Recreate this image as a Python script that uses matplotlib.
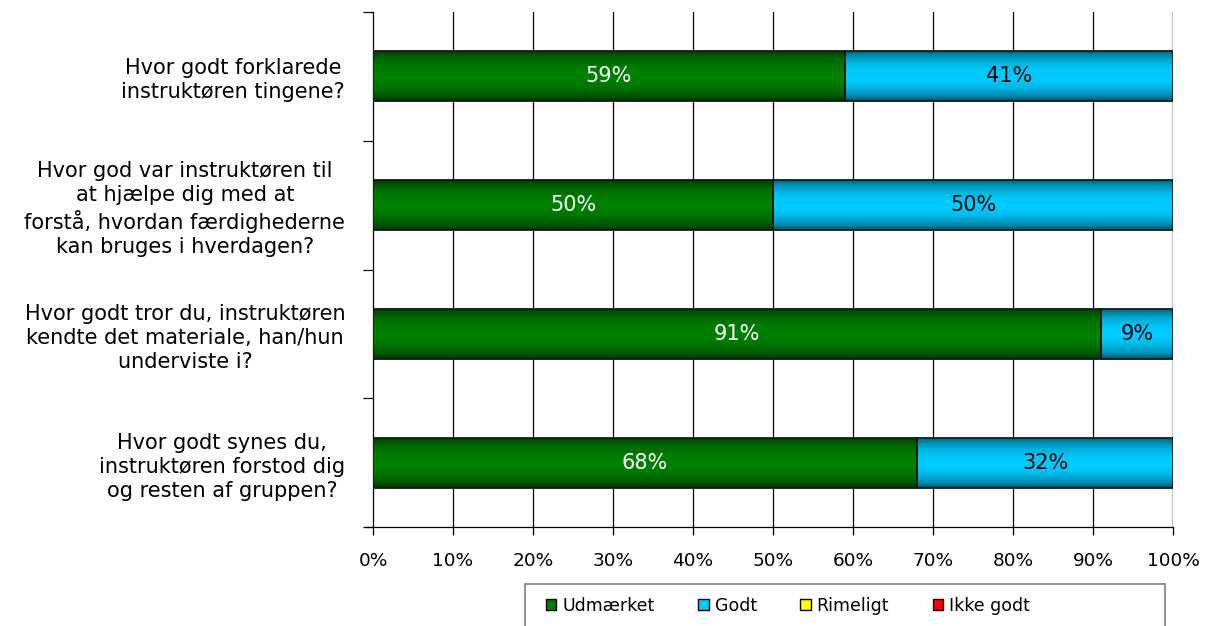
import numpy as np
import matplotlib
matplotlib.use("Agg")
from matplotlib import pyplot as plt
from matplotlib.patches import Patch, Rectangle
from matplotlib.colors import to_rgb

# survey questions and answer shares (percent)
questions = [
    "Hvor godt forklarede\ninstruktøren tingene?",
    "Hvor god var instruktøren til\nat hjælpe dig med at\nforstå, hvordan færdighederne\nkan bruges i hverdagen?",
    "Hvor godt tror du, instruktøren\nkendte det materiale, han/hun\nunderviste i?",
    "Hvor godt synes du,\ninstruktøren forstod dig\nog resten af gruppen?",
]
udmaerket = [59, 50, 91, 68]
godt = [41, 50, 9, 32]
rimeligt = [0, 0, 0, 0]
ikke_godt = [0, 0, 0, 0]

series_names = ["Udmærket", "Godt", "Rimeligt", "Ikke godt"]
series_colors = ["#008000", "#00ccff", "#ffff00", "#ff0000"]
text_colors = ["white", "black", "black", "white"]
series = [udmaerket, godt, rimeligt, ikke_godt]

plt.rcParams['font.family'] = ['DejaVu Sans']

fig = plt.figure(figsize=(12.1, 6.26), dpi=100)
ax = fig.add_axes([373 / 1210, 1 - 527 / 626, 800 / 1210, 515 / 626])

y = np.arange(len(questions))
bar_h = 0.39


def shaded(color, n=64):
    # dark at the top and bottom edge, full colour in the middle
    base = np.array(to_rgb(color))
    t = np.linspace(-1, 1, n)
    k = 0.35 + 0.65 * np.cos(t * np.pi / 2) ** 0.6
    return (base[None, :] * k[:, None])[:, None, :]


left = np.zeros(len(questions))
for vals, col, tcol in zip(series, series_colors, text_colors):
    vals = np.array(vals, dtype=float)
    bars = ax.barh(y, vals, left=left, height=bar_h, color=col,
                   edgecolor="none", zorder=3)
    for b, v, l in zip(bars, vals, left):
        if v <= 0:
            continue
        x0, y0 = b.get_x(), b.get_y()
        im = ax.imshow(shaded(col), extent=[x0, x0 + b.get_width(), y0 + b.get_height(), y0],
                       aspect="auto", zorder=3.5, interpolation="bilinear")
        im.set_clip_path(b)
        # outline on top of the shading
        ax.add_patch(Rectangle((x0, y0), b.get_width(), b.get_height(), fill=False,
                               edgecolor="#0a1a1a", linewidth=1.3, zorder=4))
        ax.text(l + v / 2, b.get_y() + b.get_height() / 2, f"{v:.0f}%",
                ha="center", va="center", color=tcol, fontsize=15, zorder=5)
    left += vals

ax.set_xlim(0, 100)
ax.set_ylim(len(questions) - 0.5, -0.5)

# vertical grid lines
for gx in range(10, 100, 10):
    ax.axvline(gx, color="black", linewidth=0.9, zorder=1)
ax.axvline(100, color="#c0c0c0", linewidth=1.5, zorder=1)

ax.set_xticks(range(0, 101, 10))
ax.set_xticklabels([f"{v}%" for v in range(0, 101, 10)], fontsize=13.3)
ax.tick_params(axis="x", direction="out", length=6, width=0.9, pad=12)

ax.set_yticks(y)
ax.set_yticklabels(questions, fontsize=15)
for lab in ax.get_yticklabels():
    lab.set_multialignment("center")
    lab.set_linespacing(1.25)
ax.tick_params(axis="y", which="major", length=0, pad=20)
ax.set_yticks(np.arange(-0.5, len(questions), 1), minor=True)
ax.tick_params(axis="y", which="minor", direction="out", length=7, width=0.9)

for s in ["top", "right", "bottom"]:
    ax.spines[s].set_visible(False)
ax.spines["left"].set_linewidth(0.9)
ax.plot([-0.875, 100], [len(questions) - 0.5] * 2, color="black", linewidth=0.9,
        clip_on=False, zorder=6)

# legend box runs past the lower edge of the figure
fig.patches.append(Rectangle((525 / 1210, -0.05), 640 / 1210, 0.05 + 42 / 626,
                             transform=fig.transFigure, fill=False,
                             edgecolor="#808080", linewidth=1.2))
handles = [Patch(facecolor=c, edgecolor="black", linewidth=1) for c in series_colors]
leg = fig.legend(handles, series_names, loc="center left",
                 bbox_to_anchor=(546 / 1210, 1 - 606 / 626), ncol=4,
                 fontsize=12.5, frameon=False,
                 handlelength=0.6, handleheight=0.6, handletextpad=0.35,
                 columnspacing=2.5, borderpad=0, borderaxespad=0)

fig.savefig("out.png", dpi=100)
